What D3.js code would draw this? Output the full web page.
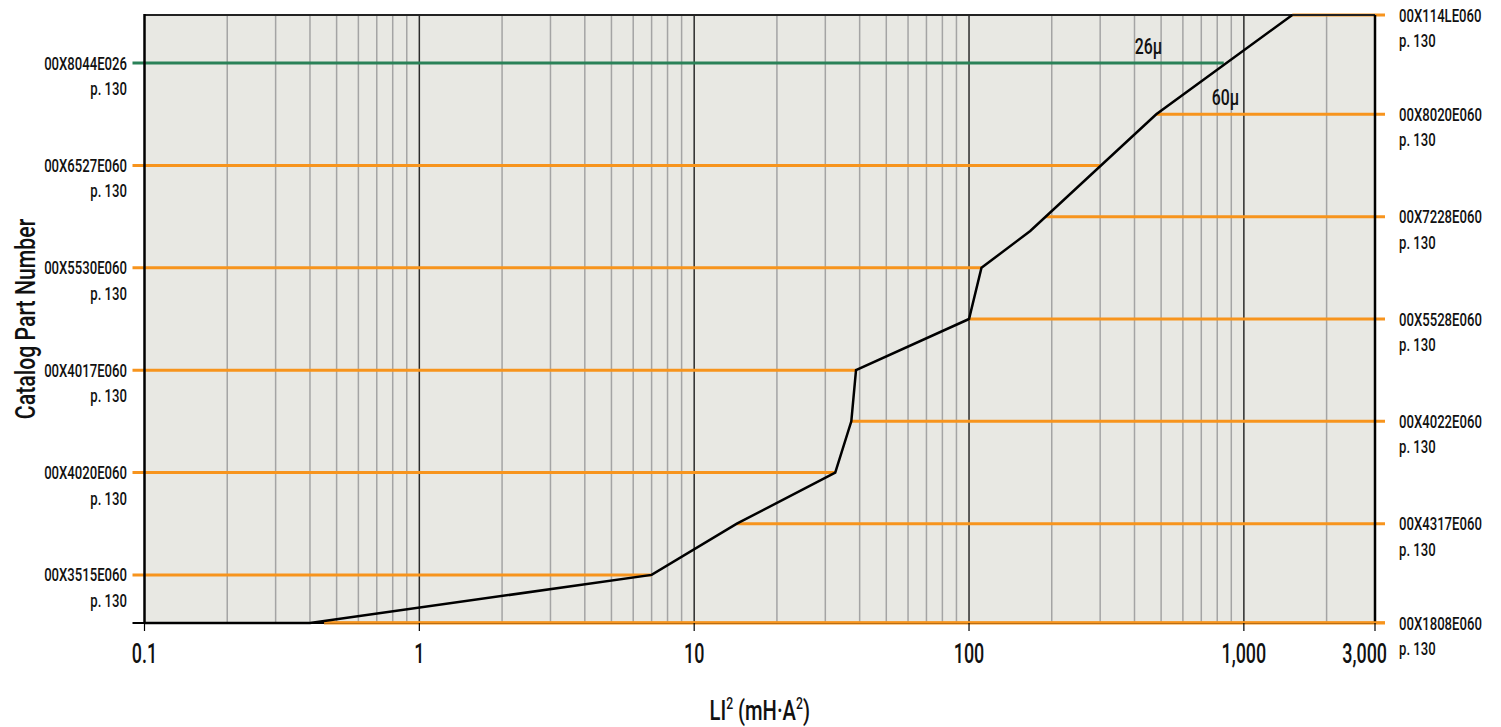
<!DOCTYPE html>
<html>
<head>
<meta charset="utf-8">
<script src="https://cdn.jsdelivr.net/npm/d3@7"></script>
<style>
  html, body { margin: 0; padding: 0; background: #ffffff; }
  svg text { font-family: Roboto, "Liberation Sans", Arial, sans-serif; font-weight: 500; fill: #111; }
</style>
</head>
<body>
<svg id="chart" width="1501" height="727"></svg>
<script>
// ---------- data ----------
const xDomain = [0.1, 3000];
const xTickValues = [0.1, 1, 10, 100, 1000, 3000];
const xTickLabels = ["0.1", "1", "10", "100", "1,000", "3,000"];
const majorGrid = [1, 10, 100, 1000];
const minorGrid = [0.2,0.3,0.4,0.5,0.6,0.7,0.8,0.9, 2,3,4,5,6,7,8,9, 20,30,40,50,60,70,80,90, 200,300,400,500,600,700,800,900, 2000];

// left-labelled parts (line runs from left edge to the curve)
const leftParts    = ["00X8044E026", "00X6527E060", "00X5530E060", "00X4017E060", "00X4020E060", "00X3515E060"];
const leftLevels   = [11, 9, 7, 5, 3, 1];
const leftEnds     = [845, 300, 111, 38.8, 32.6, 7];
const leftMaterial = ["26μ", "60μ", "60μ", "60μ", "60μ", "60μ"];

// right-labelled parts (line runs from the curve to right edge)
const rightParts    = ["00X114LE060", "00X8020E060", "00X7228E060", "00X5528E060", "00X4022E060", "00X4317E060", "00X1808E060"];
const rightLevels   = [12, 10, 8, 6, 4, 2, 0];
const rightStarts   = [1500, 480, 190, 100, 37.3, 14.3, 0.45];
const rightMaterial = ["60μ", "60μ", "60μ", "60μ", "60μ", "60μ", "60μ"];

const pageLabel = "p. 130";

// boundary curve
const curveX     = [0.1, 0.4, 7, 14.3, 32.6, 37.3, 38.8, 100, 111, 167, 480, 1500];
const curveLevel = [0, 0, 1, 2, 3, 4, 5, 6, 7, 7.72, 10, 12];

// material annotations
const annotText  = ["26μ", "60μ"];
const annotX     = [450, 857];
const annotLevel = [11, 10];

const materials = ["26μ", "60μ"];
const materialColors = ["#2a8158", "#f7941d"];

// ---------- layout ----------
const svg = d3.select("#chart");
const plot = { left: 144.5, right: 1375, top: 15, bottom: 623 };

const x = d3.scaleLog().domain(xDomain).range([plot.left, plot.right]);
const y = d3.scaleLinear().domain([0.06, 11.94]).range([plot.bottom, plot.top]).clamp(true);
const color = d3.scaleOrdinal().domain(materials).range(materialColors);

function stext(g, tx, ty, str, size, sx, anchor, rot) {
  return g.append("text")
    .attr("transform", `translate(${tx},${ty})${rot ? ` rotate(${rot})` : ""} scale(${sx},1)`)
    .attr("text-anchor", anchor)
    .style("font-size", size + "px")
    .text(str);
}

// background
svg.append("rect")
  .attr("x", plot.left).attr("y", plot.top)
  .attr("width", plot.right - plot.left).attr("height", plot.bottom - plot.top)
  .attr("fill", "#e8e8e3");

// grid
svg.append("g").selectAll("line").data(minorGrid).join("line")
  .attr("x1", d => x(d)).attr("x2", d => x(d))
  .attr("y1", plot.top).attr("y2", plot.bottom)
  .attr("stroke", "#a4a4a4").attr("stroke-width", 1.5);
svg.append("g").selectAll("line").data(majorGrid).join("line")
  .attr("x1", d => x(d)).attr("x2", d => x(d))
  .attr("y1", plot.top).attr("y2", plot.bottom)
  .attr("stroke", "#2b2b2b").attr("stroke-width", 1.5);

// horizontal part lines
const leftData = leftParts.map((p, i) => ({ part: p, level: leftLevels[i], end: leftEnds[i], mat: leftMaterial[i] }));
const rightData = rightParts.map((p, i) => ({ part: p, level: rightLevels[i], start: rightStarts[i], mat: rightMaterial[i] }));

svg.append("g").selectAll("line").data(leftData).join("line")
  .attr("x1", plot.left - 12).attr("x2", d => x(d.end))
  .attr("y1", d => y(d.level)).attr("y2", d => y(d.level))
  .attr("stroke", d => color(d.mat)).attr("stroke-width", 3);

svg.append("g").selectAll("line").data(rightData).join("line")
  .attr("x1", d => x(d.start)).attr("x2", plot.right + 10)
  .attr("y1", d => y(d.level)).attr("y2", d => y(d.level))
  .attr("stroke", d => color(d.mat)).attr("stroke-width", 3);

// frame
const frame = svg.append("g");
frame.append("line").attr("x1", plot.left).attr("x2", plot.right).attr("y1", plot.top).attr("y2", plot.top)
  .attr("stroke", "#222").attr("stroke-width", 2);
frame.append("line").attr("x1", plot.right).attr("x2", plot.right).attr("y1", plot.top).attr("y2", plot.bottom + 1)
  .attr("stroke", "#000").attr("stroke-width", 2.5);
frame.append("line").attr("x1", plot.left).attr("x2", plot.left).attr("y1", plot.top - 1).attr("y2", plot.bottom + 1)
  .attr("stroke", "#000").attr("stroke-width", 2.5);
frame.append("line").attr("x1", plot.left - 12).attr("x2", plot.right).attr("y1", plot.bottom).attr("y2", plot.bottom)
  .attr("stroke", "#000").attr("stroke-width", 2);

// redraw the bottom orange line over the axis on its span
svg.append("g").selectAll("line").data(rightData.filter(d => d.level === 0)).join("line")
  .attr("x1", d => x(d.start)).attr("x2", plot.right + 10)
  .attr("y1", d => y(d.level) - 0.5).attr("y2", d => y(d.level) - 0.5)
  .attr("stroke", d => color(d.mat)).attr("stroke-width", 2.5);

// curve
const curveData = curveX.map((v, i) => ({ x: v, level: curveLevel[i] }));
svg.append("path")
  .datum(curveData)
  .attr("d", d3.line().x(d => x(d.x)).y(d => y(d.level)))
  .attr("fill", "none").attr("stroke", "#000").attr("stroke-width", 2.5)
  .attr("stroke-linejoin", "miter");

// x ticks
svg.append("g").selectAll("line").data(xTickValues).join("line")
  .attr("x1", d => x(d)).attr("x2", d => x(d))
  .attr("y1", plot.bottom).attr("y2", plot.bottom + 8)
  .attr("stroke", "#000").attr("stroke-width", 1.2);

const tickG = svg.append("g");
xTickValues.forEach((v, i) => {
  const last = i === xTickValues.length - 1;
  stext(tickG, x(v) + (last ? 12 : 0), 663, xTickLabels[i], 28, 0.64, last ? "end" : "middle");
});

// part labels
const lab = svg.append("g");
leftData.forEach(d => {
  stext(lab, 127, y(d.level) + 6.5, d.part, 18.5, 0.71, "end");
  stext(lab, 127, y(d.level) + 32, pageLabel, 18.5, 0.71, "end");
});
rightData.forEach(d => {
  stext(lab, 1399, y(d.level) + 6.5, d.part, 18.5, 0.71, "start");
  stext(lab, 1399, y(d.level) + 32, pageLabel, 18.5, 0.71, "start");
});

// annotations
annotText.forEach((t, i) => {
  stext(lab, x(annotX[i]), y(annotLevel[i]) - 9.5, t, 22, 0.72, "middle");
});

// axis titles
const xt = svg.append("text")
  .attr("transform", `translate(${(plot.left + plot.right) / 2},720) scale(0.72,1)`)
  .attr("text-anchor", "middle")
  .style("font-size", "28px");
xt.append("tspan").text("LI");
xt.append("tspan").attr("dy", -11).style("font-size", "17px").text("2");
xt.append("tspan").attr("dy", 11).text(" (mH·A");
xt.append("tspan").attr("dy", -11).style("font-size", "17px").text("2");
xt.append("tspan").attr("dy", 11).text(")");

stext(svg, 35, (plot.top + plot.bottom) / 2, "Catalog Part Number", 28, 0.76, "middle", -90);
</script>
</body>
</html>
